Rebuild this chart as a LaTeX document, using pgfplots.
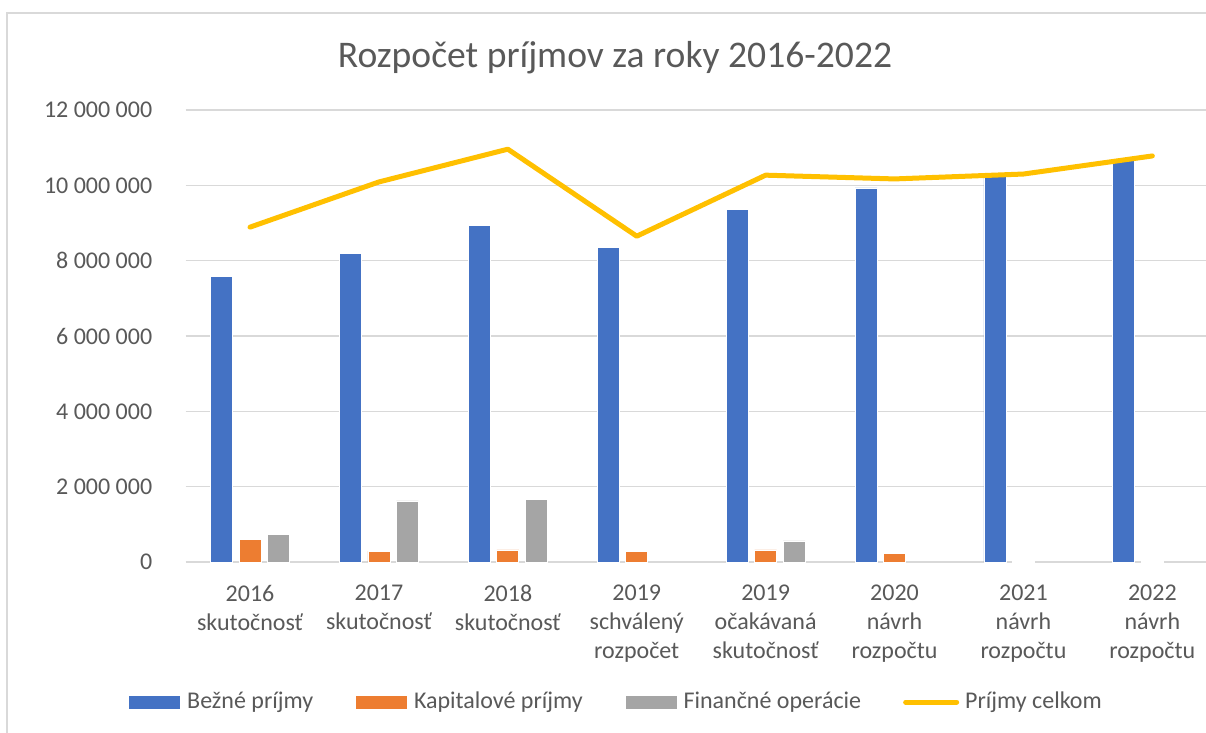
\documentclass[border=0pt]{standalone}
\usepackage{fontspec}
\setmainfont{Carlito}
\usepackage{pgfplots}
\pgfplotsset{compat=1.18}
\definecolor{cblue}{HTML}{4472C4}
\definecolor{corange}{HTML}{ED7D31}
\definecolor{cgray}{HTML}{A5A5A5}
\definecolor{cyellow}{HTML}{FFC000}
\definecolor{gridc}{HTML}{D9D9D9}
\definecolor{txt}{HTML}{595959}
\begin{document}
\begin{tikzpicture}
\path[use as bounding box, clip] (0pt,0pt) rectangle (603pt,-366.5pt);
\fill[white] (0pt,0pt) rectangle (603pt,-366.5pt);
\draw[gridc, line width=0.75pt] (3.5pt,-370pt) -- (3.5pt,-6.5pt) -- (610pt,-6.5pt);
\node[anchor=base, text=txt, font=\fontsize{18.8pt}{22pt}\selectfont] at (307.5pt,-34pt) {Rozpočet príjmov za roky 2016-2022};
\begin{axis}[
  at={(92.8pt,-281pt)}, anchor=south west,
  scale only axis, width=515.6pt, height=226pt,
  xmin=-0.5, xmax=7.5, ymin=0, ymax=12000000,
  axis line style={draw=none}, tick style={draw=none},
  major tick length=0pt,
  ymajorgrids, grid style={gridc, line width=0.75pt},
  ytick={0,2000000,4000000,6000000,8000000,10000000,12000000},
  yticklabels={0,2 000 000,4 000 000,6 000 000,8 000 000,10 000 000,12 000 000},
  scaled y ticks=false,
  xtick={0,1,2,3,4,5,6,7},
  xticklabels={{2016\\skutočnosť},{2017\\skutočnosť},{2018\\skutočnosť},{2019\\schválený\\rozpočet},{2019\\očakávaná\\skutočnosť},{2020\\návrh\\rozpočtu},{2021\\návrh\\rozpočtu},{2022\\návrh\\rozpočtu}},
  xticklabel style={anchor=north, inner sep=0pt, yshift=-11.5pt, align=center, text=txt, font=\fontsize{12pt}{14.5pt}\selectfont},
  yticklabel style={anchor=east, inner sep=0pt, xshift=-16.5pt, text=txt, font=\fontsize{12pt}{14.5pt}\selectfont},
  legend columns=4,
  legend style={at={(-28.8pt,-70pt)}, anchor=west, draw=none, fill=none, inner sep=0pt,
    font=\fontsize{12pt}{14.5pt}\selectfont, text=txt,
    nodes={inner sep=0pt},
    /tikz/every odd column/.append style={column sep=3pt},
    /tikz/every even column/.append style={column sep=21pt}},
]
\addplot[ybar, bar width=11pt, bar shift=-14.25pt, fill=cblue, draw=white, line width=0.4pt,
  legend image code/.code={\path[fill=cblue] (0pt,-3.5pt) rectangle (26pt,3.5pt);}]
  coordinates {(0,7570000) (1,8180000) (2,8940000) (3,8360000) (4,9370000) (5,9930000) (6,10250000) (7,10720000)};
\addlegendentry{Bežné príjmy}
\addplot[ybar, bar width=11pt, bar shift=0pt, fill=corange, draw=white, line width=0.4pt,
  legend image code/.code={\path[fill=corange] (0pt,-3.5pt) rectangle (26pt,3.5pt);}]
  coordinates {(0,610000) (1,290000) (2,320000) (3,290000) (4,320000) (5,220000) (6,15000) (7,20000)};
\addlegendentry{Kapitalové príjmy}
\addplot[ybar, bar width=11pt, bar shift=14.25pt, fill=cgray, draw=white, line width=0.4pt,
  legend image code/.code={\path[fill=cgray] (0pt,-3.5pt) rectangle (26pt,3.5pt);}]
  coordinates {(0,720000) (1,1620000) (2,1670000) (4,560000)};
\addlegendentry{Finančné operácie}
\addplot[cyellow, line width=2.5pt, line cap=round, line join=round, mark=none,
  legend image code/.code={\draw[cyellow, line width=2.5pt, line cap=round] (1pt,0pt) -- (26.5pt,0pt);}]
  coordinates {(0,8890000) (1,10090000) (2,10960000) (3,8650000) (4,10270000) (5,10170000) (6,10300000) (7,10780000)};
\addlegendentry{Príjmy celkom}
\end{axis}
\end{tikzpicture}
\end{document}
